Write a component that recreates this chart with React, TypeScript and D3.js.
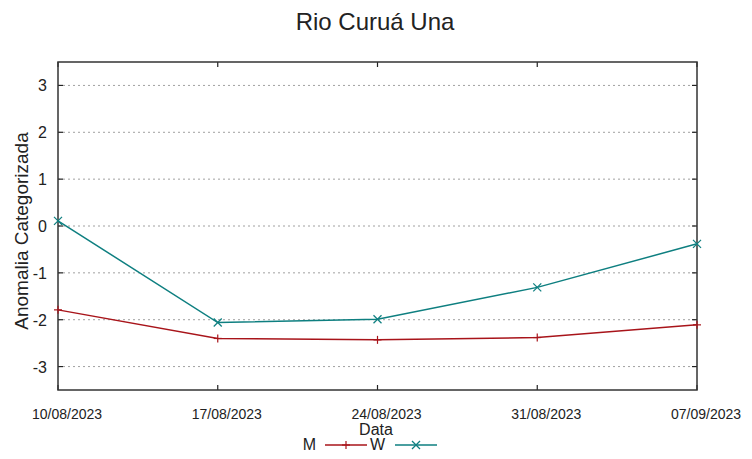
import React from "react";
import * as d3 from "d3";

const dates = ["2023-08-10", "2023-08-17", "2023-08-24", "2023-08-31", "2023-09-07"];
const tickLabels = ["10/08/2023", "17/08/2023", "24/08/2023", "31/08/2023", "07/09/2023"];
const seriesM = [-1.79, -2.4, -2.43, -2.38, -2.11];
const seriesW = [0.11, -2.06, -1.99, -1.31, -0.38];
const yTicks = [3, 2, 1, 0, -1, -2, -3];

const W = 752, H = 459;
const L = 58, R = 697, T = 62, B = 390;
const FONT = "'Liberation Sans', Arial, sans-serif";
const RED = "#a8141a";
const TEAL = "#0e7f80";

export default function App() {
  const parse = d3.timeParse("%Y-%m-%d");
  const xd = dates.map((d) => parse(d) as Date);
  const x = d3.scaleTime().domain([xd[0], xd[xd.length - 1]]).range([L, R]);
  const y = d3.scaleLinear().domain([-3.5, 3.5]).range([B, T]);
  const line = d3.line<number>().x((_, i) => x(xd[i])).y((v) => y(v));

  const plus = (cx: number, cy: number, c: string, k: string) => (
    <g key={k} stroke={c} strokeWidth={1.2}>
      <line x1={cx - 4} x2={cx + 4} y1={cy} y2={cy} />
      <line x1={cx} x2={cx} y1={cy - 4} y2={cy + 4} />
    </g>
  );
  const cross = (cx: number, cy: number, c: string, k: string) => (
    <g key={k} stroke={c} strokeWidth={1.2}>
      <line x1={cx - 4} x2={cx + 4} y1={cy - 4} y2={cy + 4} />
      <line x1={cx - 4} x2={cx + 4} y1={cy + 4} y2={cy - 4} />
    </g>
  );

  return (
    <svg width={W} height={H} style={{ position: "absolute", left: 0, top: 0, background: "#fff" }} fontFamily={FONT}>
      <rect x={0} y={0} width={W} height={H} fill="#fff" />
      <text x={375} y={30} textAnchor="middle" fontSize={24} fill="#222">Rio Curuá Una</text>
      {yTicks.map((t) => (
        <g key={t}>
          <line x1={L} x2={R} y1={y(t)} y2={y(t)} stroke="#a0a0a0" strokeWidth={1} strokeDasharray="2,3" />
          <line x1={L} x2={L + 5} y1={y(t)} y2={y(t)} stroke="#222" strokeWidth={1.2} />
          <line x1={R - 5} x2={R} y1={y(t)} y2={y(t)} stroke="#222" strokeWidth={1.2} />
          <text x={47} y={y(t) + 6} textAnchor="end" fontSize={16} fill="#222">{t}</text>
        </g>
      ))}
      {xd.map((d, i) => (
        <g key={i}>
          <line x1={x(d)} x2={x(d)} y1={B} y2={B - 5} stroke="#222" strokeWidth={1.2} />
          <line x1={x(d)} x2={x(d)} y1={T} y2={T + 5} stroke="#222" strokeWidth={1.2} />
          <text x={x(d) + 9} y={419} textAnchor="middle" fontSize={14} fill="#222">{tickLabels[i]}</text>
        </g>
      ))}
      <rect x={L} y={T} width={R - L} height={B - T} fill="none" stroke="#333" strokeWidth={1.5} />
      <path d={line(seriesM) || ""} fill="none" stroke={RED} strokeWidth={1.5} />
      <path d={line(seriesW) || ""} fill="none" stroke={TEAL} strokeWidth={1.5} />
      {seriesM.map((v, i) => plus(x(xd[i]), y(v), RED, "m" + i))}
      {seriesW.map((v, i) => cross(x(xd[i]), y(v), TEAL, "w" + i))}
      <text transform={`translate(28,231) rotate(-90)`} textAnchor="middle" fontSize={19} fill="#222">Anomalia Categorizada</text>
      <text x={376} y={435} textAnchor="middle" fontSize={16} fill="#222">Data</text>
      <text x={316} y={450} textAnchor="end" fontSize={16} fill="#222">M</text>
      <line x1={325} x2={367} y1={445} y2={445} stroke={RED} strokeWidth={1.5} />
      {plus(346, 445, RED, "lm")}
      <text x={385} y={450} textAnchor="end" fontSize={16} fill="#222">W</text>
      <line x1={395} x2={437} y1={445} y2={445} stroke={TEAL} strokeWidth={1.5} />
      {cross(416, 445, TEAL, "lw")}
    </svg>
  );
}
